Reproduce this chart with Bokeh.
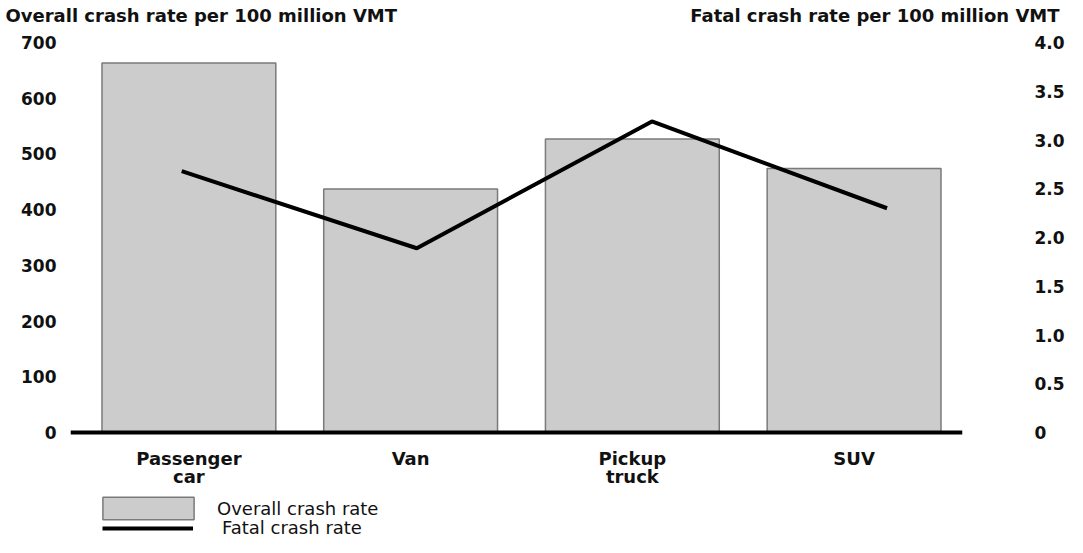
from bokeh.plotting import figure
from bokeh.models import (Range1d, LinearAxis, FixedTicker, Legend, LegendItem,
                          Label, NumeralTickFormatter, ColumnDataSource, Span)
from bokeh.core.properties import value
from bokeh.embed import file_html
from bokeh.resources import INLINE

categories = ["Passenger\ncar", "Van", "Pickup\ntruck", "SUV"]
overall_rate = [663, 437, 527, 474]
fatal_rate = [2.68, 1.89, 3.19, 2.30]
left_ticks = [0, 100, 200, 300, 400, 500, 600, 700]
right_ticks = [0, 0.5, 1.0, 1.5, 2.0, 2.5, 3.0, 3.5, 4.0]

idx = list(range(len(categories)))
src = ColumnDataSource(dict(x=idx, overall=overall_rate, fatal=fatal_rate,
                            base=[0 for _ in categories], label=categories))

FONT = "DejaVu Sans"
XS, XE = -0.534, 3.489
# frame spans from the top of the axes down to the bottom of the canvas, so
# the category labels and legend live inside it (below the zero line)
YL = Range1d(-188.46, 700)
YR = Range1d(-1.0769, 4.0)

p = figure(width=1067, height=537, output_backend="svg", toolbar_location=None,
           x_range=Range1d(XS, XE), y_range=YL,
           min_border_left=70, min_border_right=99, min_border_top=42,
           min_border_bottom=0, x_axis_type=None, y_axis_type=None)
p.outline_line_color = None
p.grid.visible = False
p.extra_x_ranges = {"line": Range1d(-0.473, 3.321)}
p.extra_y_ranges = {"fatal": YR}

bars = p.vbar(x="x", top="overall", width=0.784, source=src,
              fill_color="#cccccc", line_color="#7a7a7a", line_width=1.5)
line = p.line(x="x", y="fatal", source=src, x_range_name="line",
              y_range_name="fatal", line_color="black", line_width=4)

# baseline (x axis line)
p.add_layout(Span(location=0, dimension="width", line_color="black", line_width=4))

# category labels under the baseline
p.text(x="x", y="base", text="label", source=src, y_offset=15,
       text_font=value(FONT), text_align="center", text_baseline="top",
       text_font_size="18px", text_font_style="bold", text_color="#111111",
       text_line_height=0.9)

# left axis
yl = LinearAxis(ticker=FixedTicker(ticks=left_ticks))
yl.axis_line_color = None
yl.major_tick_line_color = None
yl.minor_tick_line_color = None
yl.major_label_standoff = 8
yl.major_label_text_font = FONT
yl.major_label_text_font_style = "bold"
yl.major_label_text_font_size = "17px"
yl.major_label_text_color = "#111111"
p.add_layout(yl, "left")

# right axis
yr = LinearAxis(y_range_name="fatal", ticker=FixedTicker(ticks=right_ticks),
                formatter=NumeralTickFormatter(format="0.0"))
yr.major_label_overrides = {0: "0"}
yr.axis_line_color = None
yr.major_tick_line_color = None
yr.minor_tick_line_color = None
yr.major_label_standoff = 66
yr.major_label_text_font = FONT
yr.major_label_text_font_style = "bold"
yr.major_label_text_font_size = "17px"
yr.major_label_text_color = "#111111"
p.add_layout(yr, "right")

# axis titles (in a side panel so they are not clipped to the frame)
lt = Label(x=XS, y=700, x_offset=-65, y_offset=27,
           text="Overall crash rate per 100 million VMT",
           text_font=FONT, text_font_style="bold", text_font_size="18px",
           text_baseline="middle", text_align="left", text_color="#111111")
rt = Label(x=XE, y=700, x_offset=97, y_offset=27,
           text="Fatal crash rate per 100 million VMT",
           text_font=FONT, text_font_style="bold", text_font_size="18px",
           text_baseline="middle", text_align="right", text_color="#111111")
p.add_layout(lt, "above")
p.add_layout(rt, "above")

common = dict(orientation="vertical", padding=0, margin=0,
              border_line_color=None, background_fill_alpha=0,
              label_text_font=FONT, label_text_font_size="18px",
              label_text_color="#111111")
legend_bar = Legend(items=[LegendItem(label="Overall crash rate", renderers=[bars])],
                    location=(21, 15), glyph_width=114, glyph_height=28,
                    label_height=28, label_standoff=12, **common)
legend_line = Legend(items=[LegendItem(label="Fatal crash rate", renderers=[line])],
                     location=(32, -1), glyph_width=91, glyph_height=20,
                     label_height=20, label_standoff=29, **common)
p.add_layout(legend_bar, "center")
p.add_layout(legend_line, "center")

open("out.html", "w").write(file_html(p, INLINE))
